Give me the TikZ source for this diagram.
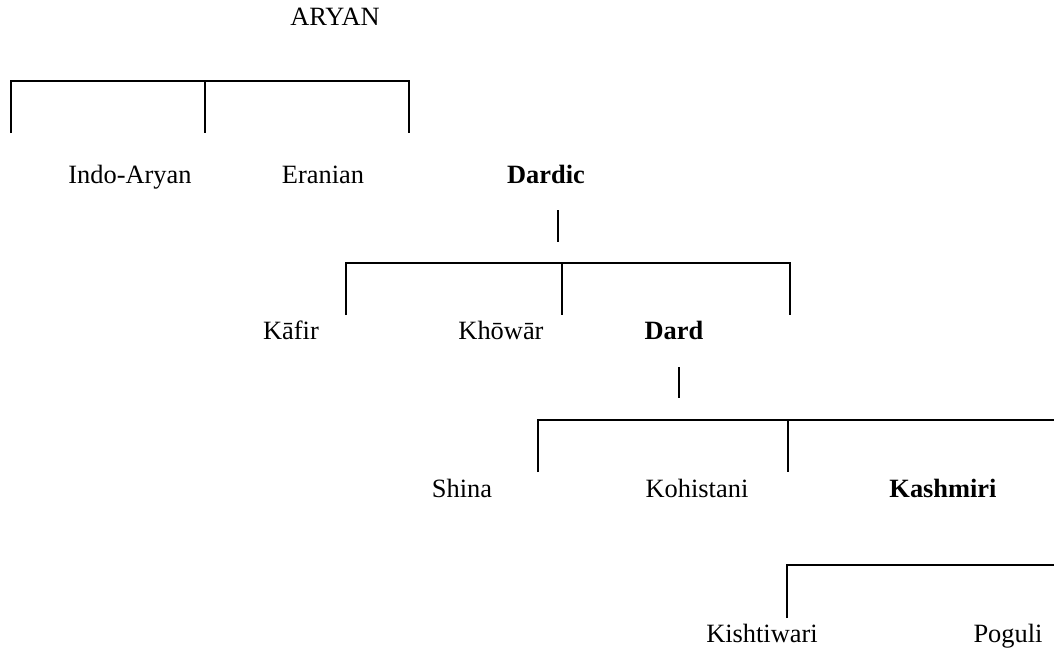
\documentclass[tikz,border=0pt]{standalone}
\usepackage{fontspec}
\setmainfont{Liberation Serif}

\begin{document}
\begin{tikzpicture}[x=0.5pt,y=-0.5pt,
  lang/.style={font=\fontsize{13.2}{15}\selectfont, anchor=base, inner sep=0pt},
  branch/.style={line width=1pt, black}]
\useasboundingbox (0,0) rectangle (1054,650);
% labels
\node[lang] (aryan) at (335,25) {ARYAN};
\node[lang] (indo) at (130,183) {Indo-Aryan};
\node[lang] (eran) at (323,183) {Eranian};
\node[lang] (dardic) at (546,183) {\textbf{Dardic}};
\node[lang] (kafir) at (291,339) {Kāfir};
\node[lang] (khowar) at (501,339) {Khōwār};
\node[lang] (dard) at (674,339) {\textbf{Dard}};
\node[lang] (shina) at (462,497) {Shina};
\node[lang] (kohis) at (697,497) {Kohistani};
\node[lang] (kashmiri) at (943,497) {\textbf{Kashmiri}};
\node[lang] (kisht) at (762,642) {Kishtiwari};
\node[lang] (poguli) at (1008,642) {Poguli};
% brackets
\coordinate (aL) at (11,81); \coordinate (aM) at (205,81); \coordinate (aR) at (409,81);
\draw[branch] (aL) ++(0,52) -- (aL) -- (aR) -- ++(0,52);
\draw[branch] (aM) -- ++(0,52);
\coordinate (dcTop) at (558,210); \coordinate (dcBot) at (558,242);
\draw[branch] (dcTop) -- (dcBot);
\coordinate (dL) at (346,263); \coordinate (dM) at (562,263); \coordinate (dR) at (790,263);
\draw[branch] (dL) ++(0,52) -- (dL) -- (dR) -- ++(0,52);
\draw[branch] (dM) -- ++(0,52);
\coordinate (dTop) at (679,367); \coordinate (dBot) at (679,398);
\draw[branch] (dTop) -- (dBot);
\coordinate (kL) at (538,420); \coordinate (kM) at (788,420); \coordinate (kR) at (1054,420);
\draw[branch] (kL) ++(0,52) -- (kL) -- (kR);
\draw[branch] (kM) -- ++(0,52);
\coordinate (sL) at (787,565); \coordinate (sR) at (1054,565);
\draw[branch] (sL) ++(0,53) -- (sL) -- (sR);
\end{tikzpicture}
\end{document}
